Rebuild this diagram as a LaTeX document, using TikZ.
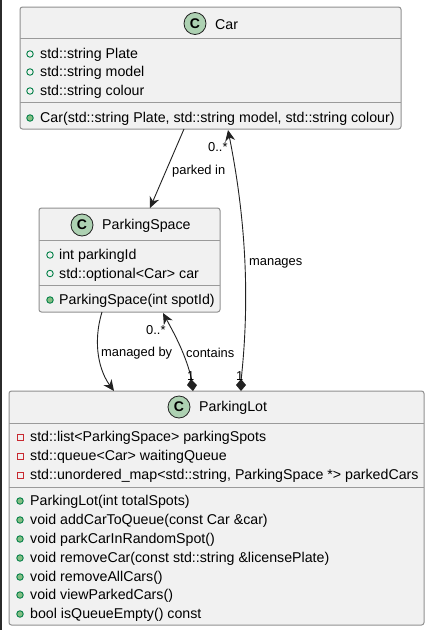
\documentclass[tikz,border=0pt]{standalone}
\usepackage{fontspec}
\setmainfont{Liberation Sans}
\usetikzlibrary{arrows.meta,calc}
\definecolor{boxfill}{HTML}{F1F1F1}
\definecolor{boxline}{HTML}{909090}
\definecolor{sepline}{HTML}{9A9A9A}
\definecolor{spot}{HTML}{ADD1B2}
\definecolor{pub}{HTML}{84BE84}
\definecolor{pubd}{HTML}{038048}
\definecolor{privd}{HTML}{C82930}
\definecolor{edge}{HTML}{222222}
\definecolor{strip}{HTML}{2B2B2B}
\tikzset{
  classbox/.style={draw=boxline,fill=boxfill,rounded corners=2.5pt,line width=1pt},
  sep/.style={draw=sepline,line width=0.9pt},
  cspot/.style={circle,draw=edge,fill=spot,line width=0.8pt,minimum size=22pt,inner sep=0pt,font=\fontsize{14}{14}\selectfont\bfseries},
  title/.style={anchor=west,inner sep=0pt,font=\fontsize{14.2}{17}\selectfont,text=black},
  member/.style={anchor=west,inner sep=0pt,yshift=-0.8pt,font=\fontsize{14.2}{17}\selectfont,text=black},
  lbl/.style={anchor=west,inner sep=0pt,font=\fontsize{12.9}{15}\selectfont,text=black},
  pubfield/.style={circle,draw=pubd,line width=0.9pt,fill=none,minimum size=6.5pt,inner sep=0pt},
  pubmeth/.style={circle,draw=pubd,line width=0.9pt,fill=pub,minimum size=6.5pt,inner sep=0pt},
  privfield/.style={rectangle,draw=privd,line width=1pt,fill=none,minimum size=6pt,inner sep=0pt},
  conn/.style={draw=edge,line width=0.9pt},
  open/.style={-{Stealth[length=11pt,width=10pt,inset=3.5pt]}}
}
\begin{document}
\begin{tikzpicture}[x=1pt,y=-1pt]
\useasboundingbox (0,0) rectangle (430,630);
\fill[white] (0,0) rectangle (430,630);
\fill[strip] (0,0) rectangle (2,630);

% Car
\draw[classbox] (20,7) rectangle (401,129);
\draw[sep] (20,38) -- (401,38);
\draw[sep] (20,102) -- (401,102);
\node[cspot] (carC) at (195,23.5) {C};
\node[title] (carT) at (215,24.5) {Car};
\node[pubfield] (c1) at (30,54) {}; \node[member] (c1t) at (40,54) {std::string Plate};
\node[pubfield] (c2) at (30,72) {}; \node[member] (c2t) at (40,72.5) {std::string model};
\node[pubfield] (c3) at (30,91) {}; \node[member] (c3t) at (40,91) {std::string colour};
\node[pubmeth] (c4) at (30,118) {}; \node[member] (c4t) at (40,118) {Car(std::string Plate, std::string model, std::string colour)};

% ParkingSpace
\draw[classbox] (39,208) rectangle (220,312);
\draw[sep] (39,240) -- (220,240);
\draw[sep] (39,285) -- (220,285);
\node[cspot] (psC) at (82,225) {C};
\node[title] (psT) at (102,225.5) {ParkingSpace};
\node[pubfield] (p1) at (50,255) {}; \node[member] (p1t) at (59,255) {int parkingId};
\node[pubfield] (p2) at (50,273.5) {}; \node[member] (p2t) at (59,274) {std::optional<Car> car};
\node[pubmeth] (p3) at (50,300) {}; \node[member] (p3t) at (59,300) {ParkingSpace(int spotId)};

% ParkingLot
\draw[classbox] (9,391) rectangle (424,625);
\draw[sep] (9,423) -- (424,423);
\draw[sep] (9,487) -- (424,487);
\node[cspot] (plC) at (179,407) {C};
\node[title] (plT) at (199,408) {ParkingLot};
\node[privfield] (l1) at (20,437) {}; \node[member] (l1t) at (30,437.5) {std::list<ParkingSpace> parkingSpots};
\node[privfield] (l2) at (20,456) {}; \node[member] (l2t) at (30,456.5) {std::queue<Car> waitingQueue};
\node[privfield] (l3) at (20,475) {}; \node[member] (l3t) at (30,475.5) {std::unordered\_map<std::string, ParkingSpace *> parkedCars};
\node[pubmeth] (m1) at (20,501) {}; \node[member] (m1t) at (30,501.5) {ParkingLot(int totalSpots)};
\node[pubmeth] (m2) at (20,520) {}; \node[member] (m2t) at (30,520.5) {void addCarToQueue(const Car \&car)};
\node[pubmeth] (m3) at (20,539) {}; \node[member] (m3t) at (30,539.5) {void parkCarInRandomSpot()};
\node[pubmeth] (m4) at (20,558) {}; \node[member] (m4t) at (30,558.5) {void removeCar(const std::string \&licensePlate)};
\node[pubmeth] (m5) at (20,577) {}; \node[member] (m5t) at (30,577.5) {void removeAllCars()};
\node[pubmeth] (m6) at (20,595) {}; \node[member] (m6t) at (30,595.5) {void viewParkedCars()};
\node[pubmeth] (m7) at (20,614) {}; \node[member] (m7t) at (30,614.5) {bool isQueueEmpty() const};

% connector ends
\coordinate (a1) at (184,129);
\coordinate (a2) at (150,208);
\coordinate (b1) at (102,312);
\coordinate (b2) at (114,391);
\coordinate (d1) at (192,381);
\coordinate (d2) at (163,313);
\coordinate (e1) at (241,381);
\coordinate (e2) at (228,130);

\draw[conn,open] (a1) -- (a2);
\draw[conn,open] (b1) .. controls (92,345) and (100,372) .. (b2);
\draw[conn,open] (d1) .. controls (186,355) and (175,335) .. (d2);
\draw[conn,open] (e1) .. controls (250,300) and (246,220) .. (e2);
\fill[edge] (193,391) -- (197,385) -- (191,379) -- (187,385) -- cycle;
\fill[edge] (241,391) -- (246,385) -- (241,379) -- (236,385) -- cycle;

\node[lbl] (t1) at (172,171) {parked in};
\node[lbl] (t2) at (101,353) {managed by};
\node[lbl] (t3) at (186,353) {contains};
\node[lbl] (t4) at (249,263) {manages};
\node[lbl] (t5) at (208,147) {0..*};
\node[lbl] (t6) at (146,330) {0..*};
\node[lbl] (t7) at (187,376) {1};
\node[lbl] (t8) at (236,376) {1};
\end{tikzpicture}
\end{document}
